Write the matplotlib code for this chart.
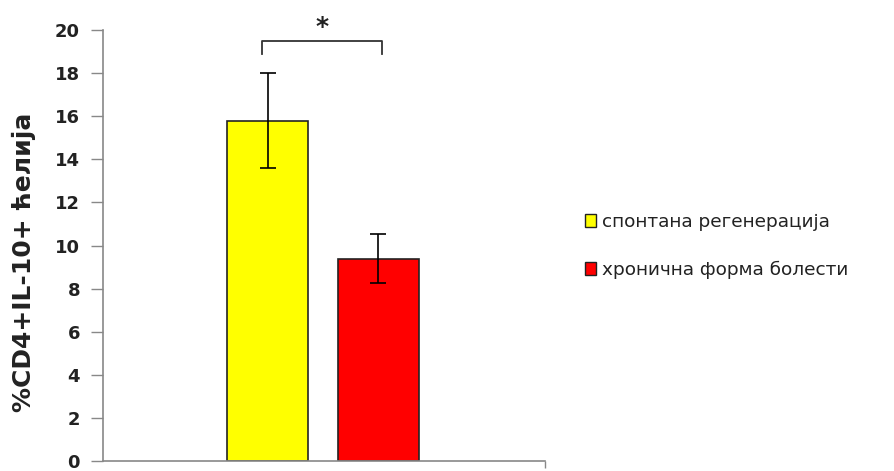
import matplotlib
matplotlib.use("Agg")
import matplotlib.pyplot as plt
from matplotlib.patches import Patch

categories = ["спонтана регенерација", "хронична форма болести"]
values = [15.8, 9.4]
errors = [2.2, 1.15]
colors = ["#ffff00", "#ff0000"]
yticks = [0, 2, 4, 6, 8, 10, 12, 14, 16, 18, 20]
ylabel = "%CD4+IL-10+ ћелија"
sig_label = "*"

plt.rcParams['font.family'] = ['DejaVu Sans']
fig = plt.figure(figsize=(8.95, 4.71), dpi=100)
ax = fig.add_axes([0.1151, 0.0212, 0.609 - 0.1151, 0.936 - 0.0212])

x = [0, 1]
ax.bar(x, values, width=0.73, color=colors, edgecolor="#222222", linewidth=1.2,
       yerr=errors, error_kw=dict(ecolor="black", elinewidth=1.2, capsize=6, capthick=1.2))

ax.set_xlim(-1.49, 2.51)
ax.set_ylim(0, 20)
ax.set_yticks(yticks)
ax.set_yticklabels([str(t) for t in yticks], fontsize=13, fontweight="bold", color="#222222")
ax.set_xticks([2.51])
ax.set_xticklabels([""])
ax.tick_params(axis="y", direction="out", length=9, width=1, color="#888888", pad=7.5)
ax.tick_params(axis="x", direction="out", length=5, width=1, color="#888888")
for s in ["top", "right"]:
    ax.spines[s].set_visible(False)
for s in ["left", "bottom"]:
    ax.spines[s].set_color("#888888")
    ax.spines[s].set_linewidth(1.2)

ax.set_ylabel(ylabel, fontsize=18, fontweight="bold", color="#222222")
ax.yaxis.set_label_coords(-0.152, 0.462)

# significance bracket
yb = 19.5
ax.plot([x[0] - 0.05, x[0] - 0.05, x[1] + 0.03, x[1] + 0.03], [18.9, yb, yb, 18.9],
        color="#333333", linewidth=1.3, clip_on=False)
ax.text((x[0] + x[1]) / 2 - 0.01, yb + 0.1, sig_label, ha="center", va="bottom",
        fontsize=18, fontweight="bold", color="#222222")

handles = [Patch(facecolor=c, edgecolor="#222222", label=l) for c, l in zip(colors, categories)]
fig.legend(handles=handles, loc="center left", bbox_to_anchor=(0.635, 0.478),
           frameon=False, fontsize=13.3, handlelength=0.6, handleheight=0.75,
           handletextpad=0.3, labelspacing=1.6, labelcolor="#222222")

fig.savefig("out.png", dpi=100)
